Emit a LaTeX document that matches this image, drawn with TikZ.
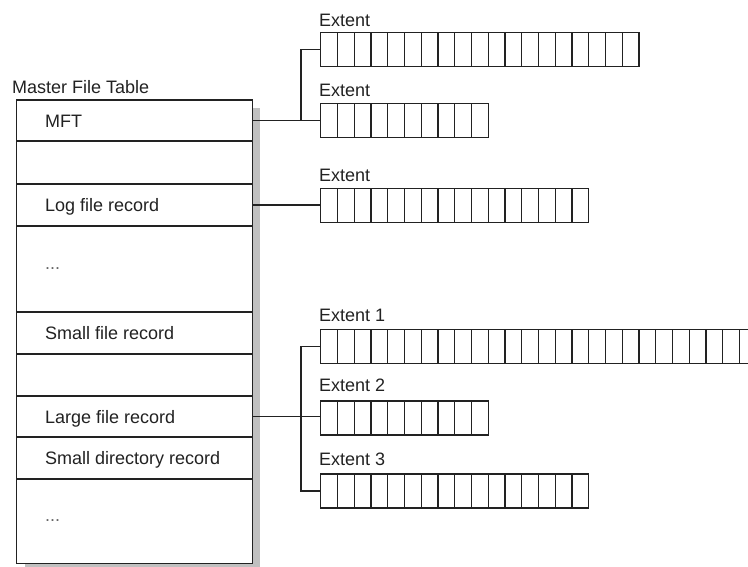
\documentclass[tikz,border=0pt]{standalone}
\usepackage{fontspec}
\setmainfont{Liberation Sans}
\definecolor{shadowgray}{HTML}{C0C0C0}
\definecolor{ink}{HTML}{222222}
\newcommand\extentbar[5]{%
  % #1 name, #2 left x, #3 vertical centre, #4 number of cells, #5 cell width
  \node[extbox, minimum width=#4*#5pt, anchor=west] (#1) at (#2,#3) {};
  \foreach \k in {1,...,\numexpr#4-1\relax}
    \draw[rule] ([xshift=\k*#5pt]#1.north west) -- ([xshift=\k*#5pt]#1.south west);
}
\begin{document}
\begin{tikzpicture}[x=1pt,y=-1pt,
  rule/.style={draw=ink, line width=1.1pt},
  rowbox/.style={rule, fill=white, minimum width=235.6pt, inner sep=0pt, outer sep=0pt},
  extbox/.style={rule, fill=white, minimum height=34pt, inner sep=0pt, outer sep=0pt},
  txt/.style={anchor=base west, inner sep=0pt, text=ink, font=\fontsize{18}{20}\selectfont},
  dots/.style={txt, text=black!60},
  link/.style={rule, line cap=rect}]
\useasboundingbox (0,0) rectangle (748,566);
\clip (0,0) rectangle (748,566);

% drop shadow of the table
\fill[shadowgray] (25,108) rectangle (260,575);

% title
\node[txt] (title) at (12,93.3) {Master File Table};

% table rows
\node[rowbox, minimum height=41pt] (r1) at (134.5,120.5) {};
\node[rowbox, minimum height=43pt] (r2) at (134.5,162.5) {};
\node[rowbox, minimum height=42pt] (r3) at (134.5,205) {};
\node[rowbox, minimum height=86pt] (r4) at (134.5,269) {};
\node[rowbox, minimum height=42pt] (r5) at (134.5,333) {};
\node[rowbox, minimum height=42pt] (r6) at (134.5,375) {};
\node[rowbox, minimum height=41pt] (r7) at (134.5,416.5) {};
\node[rowbox, minimum height=42pt] (r8) at (134.5,458) {};
\node[rowbox, minimum height=84.5pt] (r9) at (134.5,521.25) {};

% row texts
\node[txt] (t1) at ([xshift=28.3pt,yshift=-6.5pt]r1.west) {MFT};
\node[txt] (t3) at ([xshift=28.3pt,yshift=-6.5pt]r3.west) {Log file record};
\node[dots] (t4) at ([xshift=28.3pt,yshift=0pt]r4.west) {...};
\node[txt] (t5) at ([xshift=28.3pt,yshift=-6.5pt]r5.west) {Small file record};
\node[txt] (t7) at ([xshift=28.3pt,yshift=-6.5pt]r7.west) {Large file record};
\node[txt] (t8) at ([xshift=28.3pt,yshift=-6.5pt]r8.west) {Small directory record};
\node[dots] (t9) at ([xshift=28.3pt,yshift=0pt]r9.west) {...};

% extents
\extentbar{ea}{320.7}{49.5}{19}{16.75}
\extentbar{eb}{320.7}{120.5}{10}{16.75}
\extentbar{ec}{320.7}{205.2}{16}{16.75}
\extentbar{ed}{320.7}{346.3}{27}{16.75}
\extentbar{ee}{320.7}{418}{10}{16.75}
\extentbar{ef}{320.7}{491}{16}{16.75}

% extent labels
\node[txt] (la) at (319,26.7) {Extent};
\node[txt] (lb) at (319,96.7) {Extent};
\node[txt] (lc) at (319,181.7) {Extent};
\node[txt] (ld) at (319,321.7) {Extent 1};
\node[txt] (le) at (319,391.7) {Extent 2};
\node[txt] (lf) at (319,465.7) {Extent 3};

% connectors
\coordinate (j1) at (301,120.5);
\draw[rule] (r1.east) -- (j1);
\draw[rule] (j1) |- (ea.west);
\draw[rule] (j1) -- (j1 -| eb.west);

\draw[rule] (r3.east) -- (r3.east -| ec.west);

\coordinate (j2) at (301,416.5);
\draw[rule] (r7.east) -- (r7.east -| ee.west);
\draw[rule] (j2) |- (ed.west);
\draw[rule] (j2) |- (ef.west);
\end{tikzpicture}
\end{document}
